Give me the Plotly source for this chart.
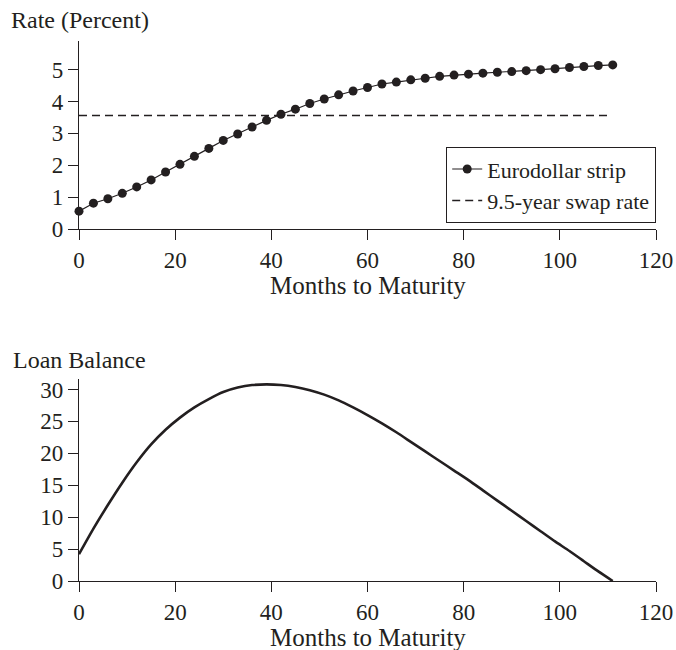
import plotly.graph_objects as go

# ---- data ----
months = list(range(0, 112, 3))
eurodollar_strip = [0.56, 0.81, 0.95, 1.12, 1.32, 1.54, 1.79, 2.03, 2.28, 2.53,
                    2.78, 2.98, 3.20, 3.41, 3.60, 3.76, 3.94, 4.08, 4.21, 4.33,
                    4.44, 4.55, 4.61, 4.68, 4.73, 4.79, 4.83, 4.86, 4.89, 4.92,
                    4.94, 4.97, 5.00, 5.03, 5.07, 5.10, 5.13, 5.15]
swap_months = [0, 110]
swap_rate = [3.56, 3.56]
loan_balance = [4.2, 8.2, 11.9, 15.4, 18.6, 21.4, 23.7, 25.6, 27.2, 28.5,
                29.6, 30.3, 30.7, 30.8, 30.7, 30.4, 29.9, 29.2, 28.3, 27.2,
                26.0, 24.7, 23.3, 21.8, 20.3, 18.8, 17.3, 15.8, 14.2, 12.6,
                11.0, 9.4, 7.8, 6.2, 4.7, 3.1, 1.5, 0.0]
x_ticks = [0, 20, 40, 60, 80, 100, 120]
rate_ticks = [0, 1, 2, 3, 4, 5]
balance_ticks = [0, 5, 10, 15, 20, 25, 30]

# ---- styling ----
INK = "#231f20"
FONT = "Liberation Serif"
FS = 23
FS_T = 24
W, H = 676, 650
ML, MR, MT, MB = 79, 20, 41, 69
PH = H - MT - MB
PW = W - ML - MR

def py(p):  # pixel y -> paper y
    return (H - MB - p) / PH

def px(p):  # pixel x -> paper x
    return (p - ML) / PW

fig = go.Figure()

fig.add_trace(go.Scatter(
    x=months, y=eurodollar_strip, mode="lines+markers", name="Eurodollar strip",
    line=dict(color=INK, width=1.2), marker=dict(size=9, color=INK),
    cliponaxis=False, xaxis="x", yaxis="y"))
fig.add_trace(go.Scatter(
    x=swap_months, y=swap_rate, mode="lines", name="9.5-year swap rate",
    line=dict(color=INK, width=1.5, dash="8px,5px"),
    xaxis="x", yaxis="y"))
fig.add_trace(go.Scatter(
    x=months, y=loan_balance, mode="lines", name="Loan balance", showlegend=False,
    line=dict(color=INK, width=2.6, shape="spline", smoothing=0.6),
    cliponaxis=False, xaxis="x2", yaxis="y2"))

axis_common = dict(showgrid=False, zeroline=False, showline=True, linecolor=INK,
                   linewidth=1.3, ticks="outside", ticklen=10, tickwidth=1.3,
                   tickcolor=INK, automargin=False,
                   tickfont=dict(family=FONT, size=FS, color=INK))

fig.update_layout(
    width=W, height=H,
    margin=dict(l=ML, r=MR, t=MT, b=MB, autoexpand=False),
    paper_bgcolor="white", plot_bgcolor="white",
    font=dict(family=FONT, size=FS, color=INK),
    xaxis=dict(axis_common, range=[0, 120], tickvals=x_ticks, anchor="y", domain=[0, 1]),
    yaxis=dict(axis_common, range=[0, 5.9], tickvals=rate_ticks, anchor="x",
               domain=[py(229), 1.0]),
    xaxis2=dict(axis_common, range=[0, 120], tickvals=x_ticks, anchor="y2", domain=[0, 1]),
    yaxis2=dict(axis_common, range=[0, 31.6], tickvals=balance_ticks, anchor="x2",
                domain=[0, py(379.3)]),
    legend=dict(x=1.0, xanchor="right", y=py(147), yanchor="top",
                bordercolor=INK, borderwidth=1.2, bgcolor="white",
                font=dict(family=FONT, size=22, color=INK),
                tracegroupgap=0, itemwidth=30),
    showlegend=True,
)

ann = dict(xref="paper", yref="paper", showarrow=False,
           font=dict(family=FONT, size=FS_T, color=INK))
fig.add_annotation(ann, text="Rate (Percent)", x=px(9), xanchor="left", y=py(20), yanchor="middle")
fig.add_annotation(ann, text="Months to Maturity", x=0.5, xanchor="center", y=py(285),
                   yanchor="middle", font=dict(family=FONT, size=25, color=INK))
fig.add_annotation(ann, text="Loan Balance", x=px(11), xanchor="left", y=py(360), yanchor="middle")
fig.add_annotation(ann, text="Months to Maturity", x=0.5, xanchor="center", y=py(637),
                   yanchor="middle", font=dict(family=FONT, size=25, color=INK))

fig.write_html("out.html",
               config={"displayModeBar": False},
               post_script="document.body.style.margin='0';document.body.style.overflow='hidden';")
